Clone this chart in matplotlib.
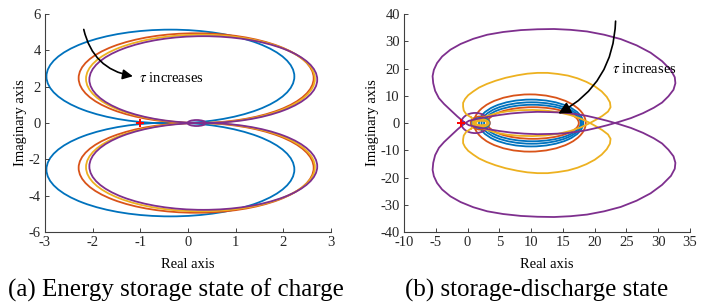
import matplotlib
matplotlib.use("Agg")
from matplotlib import pyplot as plt
from matplotlib.patches import Ellipse

# MATLAB default line colours
BLUE = "#0072BD"
ORANGE = "#D95319"
YELLOW = "#EDB120"
PURPLE = "#7E2F8E"

# (a) upper lobes of the Nyquist curves
# (centre x, centre y, width, height); lower lobes are the mirror image
a_colors = [BLUE, ORANGE, YELLOW, PURPLE]
a_cx = [-0.37, 0.17, 0.26, 0.32]
a_cy = [2.56, 2.47, 2.43, 2.39]
a_w = [5.20, 4.93, 4.80, 4.78]
a_h = [5.16, 4.94, 4.86, 4.78]
# small purple loop at the origin
a_small = (0.18, 0.0, 0.38, 0.33)

# (b) twisted curves: upper outer lobe + lower inner arc (mirror gives the rest)
purple_x = [-0.6, -1.6, -2.7, -3.7, -4.5, -5.1, -5.4, -5.5, -5.3, -4.8, -4.0,
            -2.7, -1.1, 0.9, 3.1, 5.6, 8.4, 11.0, 13.6, 16.2, 18.8, 21.5, 24.1,
            26.6, 28.8, 30.6, 32.0, 32.6, 32.7, 32.4, 31.6, 30.6, 29.3, 27.6,
            25.7, 23.8, 22.0, 20.3, 18.8, 17.0, 15.2, 13.1, 11.0, 8.9, 6.8, 4.9,
            3.1, 1.5, 0.2, -0.6]
purple_y = [0.4, 2.4, 4.8, 7.0, 9.1, 11.8, 14.6, 17.2, 19.5, 22.0, 24.4,
            26.9, 29.0, 30.9, 32.4, 33.4, 34.1, 34.4, 34.5, 34.2, 33.6, 32.4, 30.8,
            28.5, 25.8, 22.7, 19.4, 16.8, 14.6, 12.2, 9.8, 7.5, 5.6, 3.6,
            1.8, 0.4, -0.8, -1.8, -2.6, -3.3, -3.8, -4.0, -4.1, -3.9, -3.5, -2.9,
            -2.2, -1.5, -0.8, 0.4]
yellow_x = [0.6, -0.2, -0.6, -0.7, -0.7, -0.4, 0.1, 0.9, 1.8, 3.0, 4.4, 6.0,
            7.8, 9.4, 11.0, 12.6, 14.2, 15.8, 17.3, 18.7, 20.0, 21.1, 21.9, 22.4,
            22.5, 22.1, 21.2, 20.2, 19.1, 17.8, 16.2, 14.2, 12.2, 10.2, 8.2, 6.3,
            4.6, 3.1, 1.9, 1.0, 0.6]
yellow_y = [2.0, 3.2, 4.6, 6.0, 7.4, 8.8, 10.2, 11.6, 13.0, 14.3, 15.5, 16.6,
            17.5, 18.1, 18.4, 18.4, 18.0, 17.4, 16.4, 15.1, 13.5, 11.6, 9.6, 7.6,
            5.8, 4.2, 2.6, 1.2, -0.2, -1.6, -2.9, -4.0, -4.6, -4.8, -4.7, -4.3,
            -3.6, -2.6, -1.4, 0.2, 2.0]
# (b) closed rings (centre x, width, height), all centred on the real axis
ring_colors = [ORANGE, BLUE, BLUE, BLUE, ORANGE,
               PURPLE, ORANGE, BLUE, YELLOW, YELLOW]
ring_cx = [9.8, 10.0, 10.1, 10.2, 10.3, 1.2, 2.0, 2.1, 2.1, 2.2]
ring_w = [17.6, 16.4, 15.8, 15.2, 14.4, 4.4, 3.0, 2.7, 2.5, 2.0]
ring_h = [21.0, 17.2, 15.2, 13.4, 11.6, 7.4, 4.8, 3.8, 2.8, 1.6]

plt.rcParams['font.family'] = ['Liberation Serif', 'DejaVu Serif']
plt.rcParams['mathtext.fontset'] = 'stix'
plt.rcParams['axes.unicode_minus'] = False

fig = plt.figure(figsize=(7.08, 3.06), dpi=100)
ax1 = fig.add_axes([0.0636, 0.2418, 0.404, 0.7124])
ax2 = fig.add_axes([0.5706, 0.2418, 0.404, 0.7124])

LW = 1.3

for ax in (ax1, ax2):
    ax.spines['right'].set_visible(False)
    ax.spines['top'].set_visible(False)
    ax.spines['left'].set_color('#404040')
    ax.spines['bottom'].set_color('#404040')
    ax.tick_params(direction='in', length=3, labelsize=10.5, colors='#262626',
                   width=0.6, pad=3)
    ax.set_xlabel("Real axis", fontsize=10.5, labelpad=6)
    ax.set_ylabel("Imaginary axis", fontsize=10.5, labelpad=1)

# ---- (a)
for c, cx, cy, w, h in zip(a_colors, a_cx, a_cy, a_w, a_h):
    for s in (1, -1):
        ax1.add_patch(Ellipse((cx, s * cy), w, h, fill=False, ec=c, lw=LW))
ax1.add_patch(Ellipse(a_small[:2], a_small[2], a_small[3], fill=False,
                      ec=PURPLE, lw=LW))
ax1.plot([-1], [0], marker='+', color='red', ms=6, mew=1.4)
ax1.set_xlim(-3, 3)
ax1.set_ylim(-6, 6)
ax1.set_xticks(range(-3, 4))
ax1.set_yticks(range(-6, 7, 2))
ax1.annotate('', xy=(-1.1, 2.55), xytext=(-2.2, 5.3),
             arrowprops=dict(arrowstyle='-|>', connectionstyle='arc3,rad=0.35',
                             color='k', lw=1.2, mutation_scale=15))
ax1.text(-1.02, 2.5, r'$\tau$ increases', fontsize=10.5, va='center', ha='left')

# ---- (b)
for c, cx, w, h in zip(ring_colors, ring_cx, ring_w, ring_h):
    ax2.add_patch(Ellipse((cx, 0), w, h, fill=False, ec=c, lw=LW))
for xs, ys, c in ((yellow_x, yellow_y, YELLOW), (purple_x, purple_y, PURPLE)):
    ax2.plot(xs, ys, color=c, lw=LW)
    ax2.plot(xs, [-v for v in ys], color=c, lw=LW)
ax2.plot([-1], [0], marker='+', color='red', ms=6, mew=1.4)
ax2.set_xlim(-10, 35)
ax2.set_ylim(-40, 40)
ax2.set_xticks(range(-10, 36, 5))
ax2.set_yticks(range(-40, 41, 10))
ax2.annotate('', xy=(13.9, 3.0), xytext=(23.3, 38.4),
             arrowprops=dict(arrowstyle='-|>', connectionstyle='arc3,rad=-0.3',
                             color='k', lw=1.2, mutation_scale=18))
ax2.text(22.8, 19.8, r'$\tau$ increases', fontsize=10.5, va='center', ha='left')

fig.text(0.249, 0.052, "(a) Energy storage state of charge", fontsize=18,
         ha='center', va='center')
fig.text(0.758, 0.052, "(b) storage-discharge state", fontsize=18,
         ha='center', va='center')

fig.savefig("out.png", dpi=100)
